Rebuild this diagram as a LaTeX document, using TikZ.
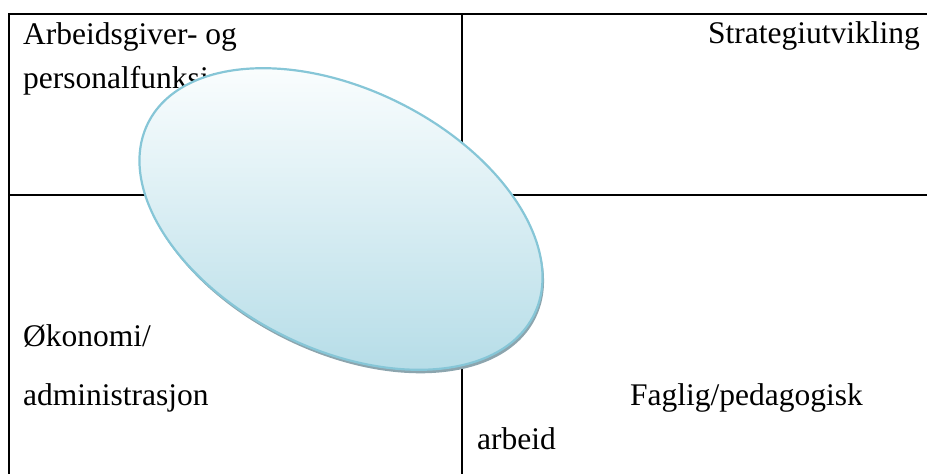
\documentclass[tikz,border=0pt]{standalone}
\usepackage{fontspec}
\setmainfont{Liberation Serif}
\definecolor{edgec}{RGB}{134,198,215}
\definecolor{topc}{RGB}{254,255,255}
\definecolor{botc}{RGB}{180,220,231}
\definecolor{shadowc}{RGB}{140,165,174}
\begin{document}
\begin{tikzpicture}[x=1pt,y=-1pt,
  lbl/.style={inner sep=0pt, font=\fontsize{31.5}{37}\selectfont},
  outerline/.style={line width=2pt, black},
  innerline/.style={line width=1.6pt, black}]
\useasboundingbox (0,0) rectangle (927,474);
% grid coordinates
\coordinate (bl) at (9,474);
\coordinate (tl) at (9,14);
\coordinate (tr) at (927,14);
\coordinate (mt) at (462,14);
\coordinate (mb) at (462,474);
\coordinate (ml) at (9,195);
\coordinate (mr) at (927,195);
\draw[outerline] (bl) -- (tl) -- (tr);
\draw[innerline] (mt) -- (mb);
\draw[innerline] (ml) -- (mr);
% texts
\node[lbl, anchor=base west] (a1) at (23,44) {Arbeidsgiver- og};
\node[lbl, anchor=base west] (a2) at (23,88) {personalfunksjon};
\node[lbl, anchor=base east] (s1) at (920,43) {Strategiutvikling};
\node[lbl, anchor=base west] (o1) at (23,346) {Økonomi/};
\node[lbl, anchor=base west] (o2) at (23,405) {administrasjon};
\node[lbl, anchor=base west] (f1) at (630,405) {Faglig/pedagogisk};
\node[lbl, anchor=base west] (f2) at (477,449) {arbeid};
% ellipse
\coordinate (cs) at (342.5,222.5);
\coordinate (c) at (341,219);
\fill[shadowc] (cs) ellipse [x radius=215.5pt, y radius=130pt, rotate=-26.4];
\shade[top color=topc, bottom color=botc, draw=edgec, line width=2.2pt]
  (c) ellipse [x radius=215.5pt, y radius=130pt, rotate=-26.4];
\end{tikzpicture}
\end{document}
